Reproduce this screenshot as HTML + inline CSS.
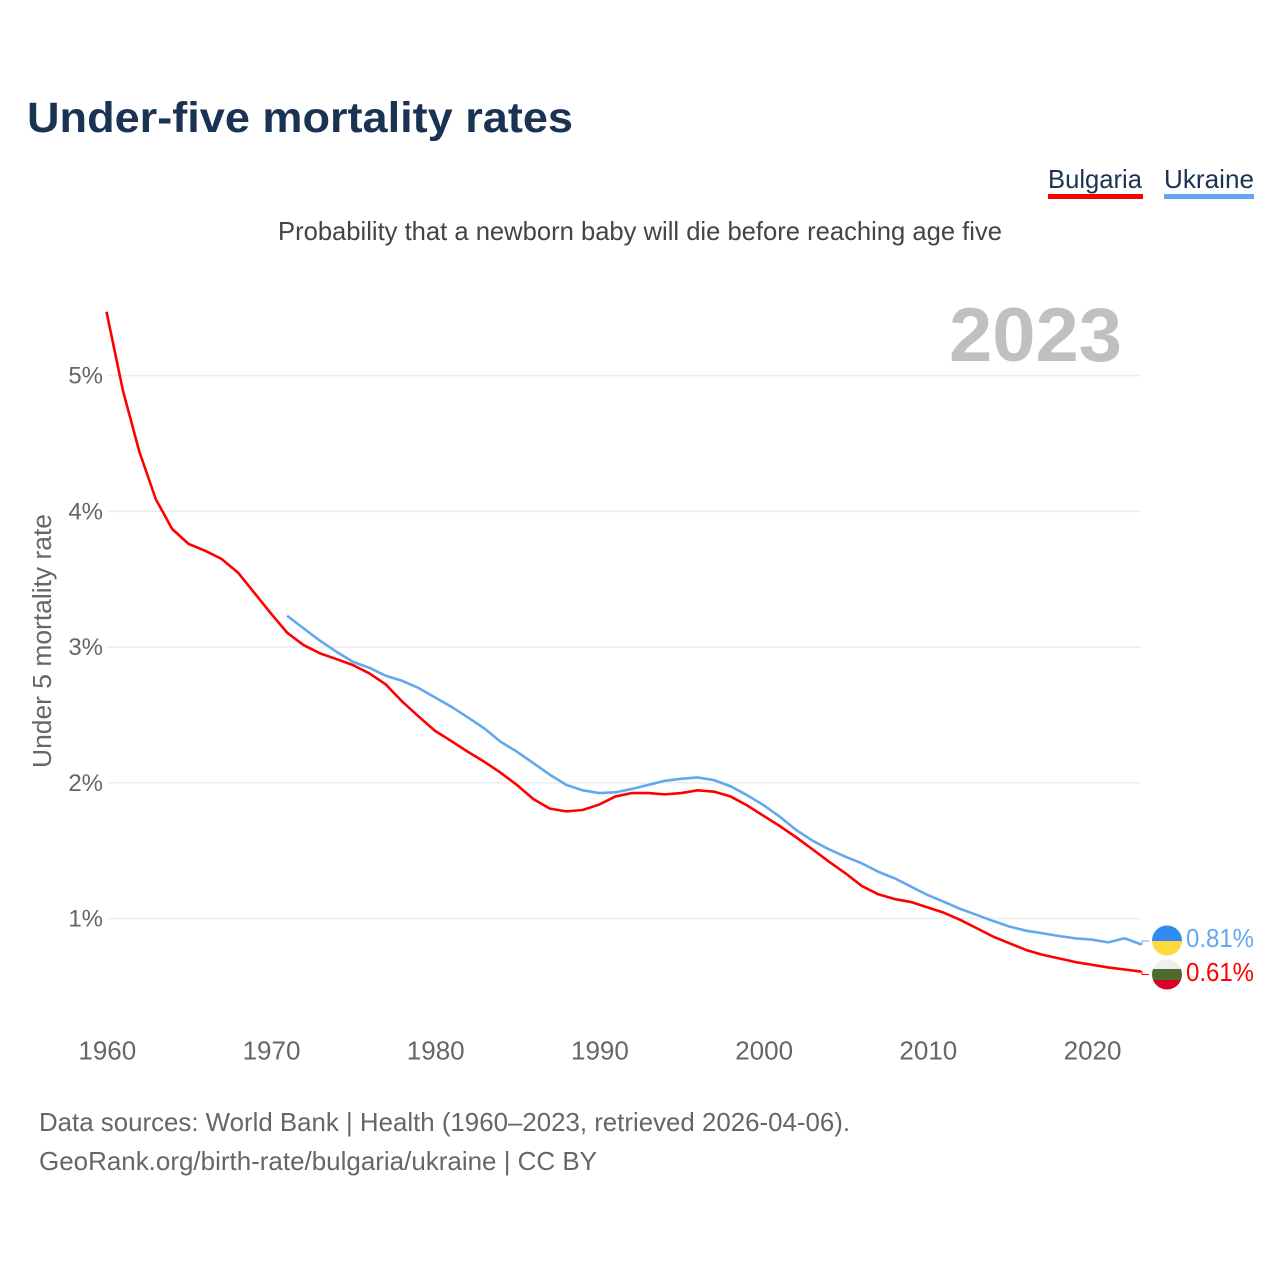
<!DOCTYPE html>
<html lang="en">
<head>
<meta charset="utf-8">
<title>Under-five mortality rates</title>
<style>
html,body{margin:0;padding:0;background:#fff;width:1280px;height:1280px;overflow:hidden}
svg{display:block}
text{font-family:"Liberation Sans",sans-serif}
</style>
</head>
<body>
<svg id="chart" xmlns="http://www.w3.org/2000/svg" width="1280" height="1280" viewBox="0 0 1280 1280">
  <defs>
    <clipPath id="clip-ua"><circle cx="1167" cy="940.5" r="15"/></clipPath>
    <clipPath id="clip-bg"><circle cx="1167" cy="974.5" r="15"/></clipPath>
  </defs>
  <text x="27" y="132" font-size="43" font-weight="700" fill="#1a3353" textLength="546" lengthAdjust="spacingAndGlyphs">Under-five mortality rates</text>

  <g>
    <g>
      <text x="1048" y="188" font-size="26" fill="#1a3353" textLength="94" lengthAdjust="spacingAndGlyphs">Bulgaria</text>
      <rect x="1048" y="194" width="95" height="5" fill="#ff0000"/>
    </g>
    <g>
      <text x="1164" y="188" font-size="26" fill="#1a3353" textLength="90" lengthAdjust="spacingAndGlyphs">Ukraine</text>
      <rect x="1164" y="194" width="90" height="5" fill="#63a8ee"/>
    </g>
  </g>

  <text x="278" y="240" font-size="26" fill="#444444" textLength="724" lengthAdjust="spacingAndGlyphs">Probability that a newborn baby will die before reaching age five</text>

  <text x="949" y="361" font-size="76" font-weight="700" fill="#c0c0c0" textLength="173" lengthAdjust="spacingAndGlyphs">2023</text>

  <g id="grid"></g>
  <g id="y-ticks"></g>
  <g id="x-ticks"></g>

  <text transform="translate(51,768) rotate(-90)" font-size="25.5" fill="#666666" textLength="254" lengthAdjust="spacingAndGlyphs">Under 5 mortality rate</text>

  <path id="line-bulgaria" fill="none" stroke="#ff0000" stroke-width="2.6" stroke-linejoin="round"/>
  <path id="line-ukraine" fill="none" stroke="#63a8ee" stroke-width="2.6" stroke-linejoin="round"/>
  <path id="conn-bulgaria" fill="none" stroke="#ff0000" stroke-width="1"/>
  <path id="conn-ukraine" fill="none" stroke="#63a8ee" stroke-width="1"/>

  <g clip-path="url(#clip-ua)">
    <rect x="1152" y="925" width="30" height="16" fill="#2f8bf0"/>
    <rect x="1152" y="941" width="30" height="16" fill="#ffd83d"/>
  </g>
  <g clip-path="url(#clip-bg)">
    <rect x="1152" y="959" width="30" height="10" fill="#eeeeee"/>
    <rect x="1152" y="969" width="30" height="11" fill="#4d6b2e"/>
    <rect x="1152" y="980" width="30" height="10" fill="#d8002a"/>
  </g>

  <text id="value-ukraine" x="1186" y="947" font-size="26" fill="#63a8ee" textLength="68" lengthAdjust="spacingAndGlyphs"></text>
  <text id="value-bulgaria" x="1186" y="981" font-size="26" fill="#ff0000" textLength="68" lengthAdjust="spacingAndGlyphs"></text>

  <text x="39" y="1131" font-size="26" fill="#666666" textLength="811" lengthAdjust="spacingAndGlyphs">Data sources: World Bank | Health (1960–2023, retrieved 2026-04-06).</text>
  <text x="39" y="1170" font-size="26" fill="#666666" textLength="558" lengthAdjust="spacingAndGlyphs">GeoRank.org/birth-rate/bulgaria/ukraine | CC BY</text>
</svg>
<script>
const bulgariaStartYear = 1960;
const bulgariaValues = [5.47,4.89,4.44,4.09,3.87,3.76,3.71,3.65,3.55,3.40,
  3.25,3.106,3.015,2.954,2.912,2.868,2.807,2.726,2.60,2.49,
  2.384,2.308,2.229,2.156,2.075,1.984,1.88,1.81,1.79,1.80,
  1.84,1.90,1.925,1.925,1.915,1.925,1.945,1.935,1.90,1.835,
  1.758,1.682,1.599,1.51,1.419,1.334,1.24,1.179,1.144,1.122,
  1.083,1.043,0.99,0.929,0.867,0.818,0.769,0.734,0.707,0.68,
  0.66,0.64,0.625,0.61];
const ukraineStartYear = 1971;
const ukraineValues = [3.231,3.138,3.047,2.966,2.892,2.848,2.789,2.752,2.699,
  2.63,2.561,2.483,2.402,2.303,2.229,2.145,2.06,1.985,1.945,
  1.925,1.93,1.955,1.985,2.015,2.03,2.04,2.02,1.975,1.91,
  1.837,1.751,1.653,1.574,1.51,1.456,1.407,1.345,1.297,1.235,
  1.174,1.124,1.071,1.027,0.982,0.941,0.911,0.892,0.872,0.855,
  0.845,0.825,0.855,0.81];
const yTicks = [1,2,3,4,5];
const xTicks = [1960,1970,1980,1990,2000,2010,2020];

function xScale(year){ return 106.5 + (year - 1960) * (1141 - 106.5) / 63; }
function yScale(v){ return 918.6 - (v - 1) * 135.75; }
function linePath(values, startYear){
  return values.map(function(v,i){
    return (i ? 'L' : 'M') + xScale(startYear + i).toFixed(2) + ' ' + yScale(v).toFixed(2);
  }).join(' ');
}
const SVG_NS = 'http://www.w3.org/2000/svg';
const gridGroup = document.getElementById('grid');
const yGroup = document.getElementById('y-ticks');
const xGroup = document.getElementById('x-ticks');

yTicks.forEach(function(t){
  const line = document.createElementNS(SVG_NS,'line');
  
  
  line.setAttribute('x1', 107);
  line.setAttribute('x2', 1141);
  line.setAttribute('y1', yScale(t));
  line.setAttribute('y2', yScale(t));
  line.setAttribute('stroke', '#eeeeee');
  line.setAttribute('stroke-width', '1.6');
  gridGroup.appendChild(line);

  const label = document.createElementNS(SVG_NS,'text');
  
  
  label.setAttribute('x', 103);
  label.setAttribute('y', yScale(t) + 8);
  label.setAttribute('text-anchor', 'end');
  label.setAttribute('font-size', '24');
  label.setAttribute('fill', '#666666');
  label.textContent = t + '%';
  yGroup.appendChild(label);
});

xTicks.forEach(function(t){
  const label = document.createElementNS(SVG_NS,'text');
  
  
  label.setAttribute('x', xScale(t) + 0.8);
  label.setAttribute('y', 1059.5);
  label.setAttribute('text-anchor', 'middle');
  label.setAttribute('font-size', '26');
  label.setAttribute('fill', '#666666');
  label.textContent = t;
  xGroup.appendChild(label);
});

document.getElementById('line-bulgaria').setAttribute('d', linePath(bulgariaValues, bulgariaStartYear));
document.getElementById('line-ukraine').setAttribute('d', linePath(ukraineValues, ukraineStartYear));

const lastB = bulgariaValues[bulgariaValues.length - 1];
const lastU = ukraineValues[ukraineValues.length - 1];
const endX = xScale(2023);
document.getElementById('conn-bulgaria').setAttribute('d',
  'M' + endX + ' ' + yScale(lastB) + ' L' + (endX + 1) + ' ' + yScale(lastB) + ' L' + (endX + 1) + ' 974.5 L1149 974.5');
document.getElementById('conn-ukraine').setAttribute('d',
  'M' + endX + ' ' + yScale(lastU) + ' L' + (endX + 1) + ' ' + yScale(lastU) + ' L' + (endX + 1) + ' 941 L1149 941');
document.getElementById('value-bulgaria').textContent = lastB.toFixed(2) + '%';
document.getElementById('value-ukraine').textContent = lastU.toFixed(2) + '%';
</script>
</body>
</html>
